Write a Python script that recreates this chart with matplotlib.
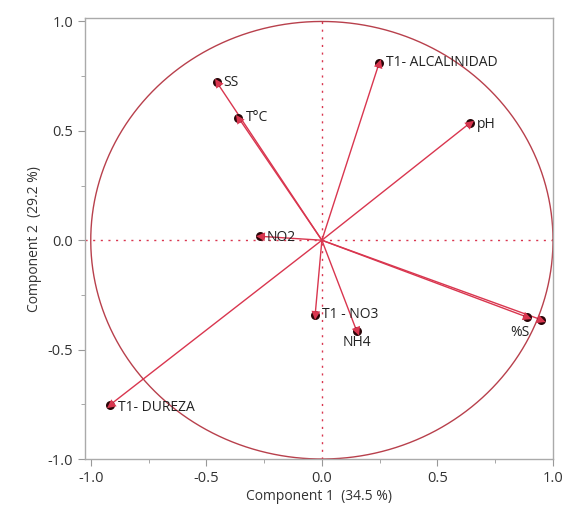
import numpy as np
import matplotlib
matplotlib.use("Agg")
import matplotlib.pyplot as plt
from matplotlib.ticker import MultipleLocator
from matplotlib.markers import MarkerStyle
from matplotlib.transforms import Affine2D

names = ["SS", "T°C", "NO2", "T1- ALCALINIDAD", "pH", "T1- DUREZA", "T1 - NO3", "NH4", "%S", ""]
comp1 = [-0.455, -0.361, -0.267, 0.248, 0.642, -0.916, -0.029, 0.151, 0.887, 0.948]
comp2 = [0.723, 0.560, 0.018, 0.811, 0.537, -0.752, -0.340, -0.416, -0.351, -0.363]
# label offsets in points (dx, dy) and alignment
label_pos = {
    "SS": (5, 0, "left", "center"),
    "T°C": (5, 0, "left", "center"),
    "NO2": (5, -1, "left", "center"),
    "T1- ALCALINIDAD": (5, 0, "left", "center"),
    "pH": (5, -1, "left", "center"),
    "T1- DUREZA": (6, -2, "left", "center"),
    "T1 - NO3": (5, 0, "left", "center"),
    "NH4": (0, -8, "center", "center"),
    "%S": (-5, -11, "center", "center"),
}

plt.rcParams['font.family'] = ['Open Sans', 'DejaVu Sans']
plt.rcParams['axes.unicode_minus'] = False
fig = plt.figure(figsize=(5.68, 5.15), dpi=100)
ax = fig.add_axes([0.1496, 0.1087, 0.824, 0.856])
ax.set_xlim(-1.025, 1.0)
ax.set_ylim(-1.0, 1.015)

red = '#d9364f'
circ_col = '#b8404c'

t = np.linspace(0, 2 * np.pi, 400)
ax.plot(np.cos(t), np.sin(t), color=circ_col, lw=1.0, zorder=2)
ax.axhline(0, color=red, lw=1.0, ls=(0, (1.5, 4)), zorder=1)
ax.axvline(0, color=red, lw=1.0, ls=(0, (1.5, 4)), zorder=1)

p0 = ax.transData.transform((0, 0))
for x, y in zip(comp1, comp2):
    ax.plot([0, x], [0, y], color=red, lw=1.0, zorder=2.5)
    ax.scatter([x], [y], s=42, color='#2a0508', zorder=3, lw=0)
    p1 = ax.transData.transform((x, y))
    ang = np.degrees(np.arctan2(p1[1] - p0[1], p1[0] - p0[0]))
    m = MarkerStyle('^')
    m._transform = m.get_transform().rotate_deg(ang - 90)
    ax.scatter([x], [y], s=40, marker=m, color=red, zorder=4, lw=0)

for n, x, y in zip(names, comp1, comp2):
    if not n:
        continue
    dx, dy, ha, va = label_pos[n]
    ax.annotate(n, xy=(x, y), xytext=(dx, dy), textcoords='offset points',
                ha=ha, va=va, fontsize=10, color='#222222', zorder=5)

ax.xaxis.set_major_locator(MultipleLocator(0.5))
ax.yaxis.set_major_locator(MultipleLocator(0.5))
ax.xaxis.set_minor_locator(MultipleLocator(0.25))
ax.yaxis.set_minor_locator(MultipleLocator(0.25))
ax.tick_params(which='both', direction='out', color='#999999', labelsize=10.5, labelcolor='#333333')
ax.tick_params(which='major', length=5)
ax.tick_params(which='minor', length=3)
for s in ax.spines.values():
    s.set_color('#aaaaaa')
    s.set_linewidth(1.0)

ax.set_xlabel("Component 1  (34.5 %)", fontsize=10, color='#333333', labelpad=2)
ax.set_ylabel("Component 2  (29.2 %)", fontsize=10, color='#333333', labelpad=4)

fig.savefig("out.png", dpi=100)
